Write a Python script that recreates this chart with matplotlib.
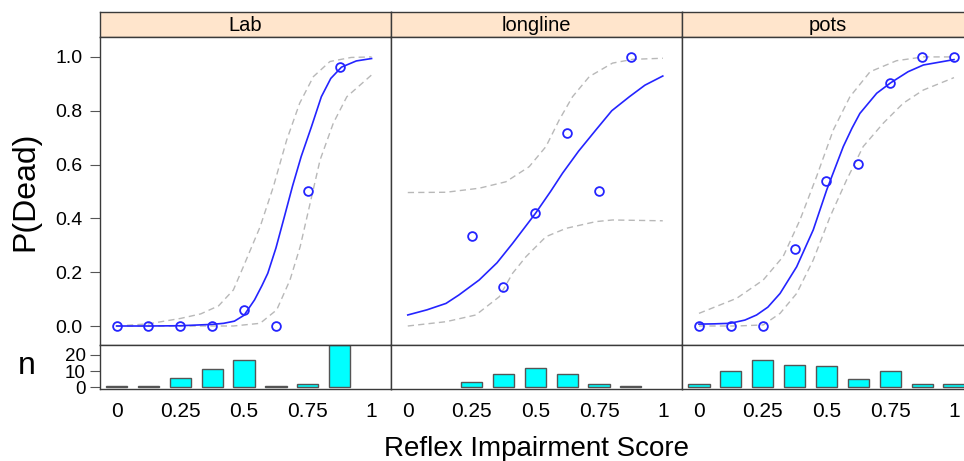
import matplotlib
matplotlib.use("Agg")
import matplotlib.pyplot as plt

plt.rcParams['font.family'] = ['Liberation Sans', 'DejaVu Sans']

panels = ["Lab", "longline", "pots"]

# observed proportions
lab_x = [0, 0.125, 0.25, 0.375, 0.5, 0.625, 0.75, 0.875]
lab_p = [0, 0, 0, 0, 0.059, 0, 0.5, 0.962]
lab_n = [1, 1, 6, 11, 17, 1, 2, 26]

ll_x = [0.25, 0.375, 0.5, 0.625, 0.75, 0.875]
ll_p = [0.336, 0.145, 0.419, 0.717, 0.503, 1.0]
ll_n = [3, 8, 12, 8, 2, 1]

pots_x = [0, 0.125, 0.25, 0.375, 0.5, 0.625, 0.75, 0.875, 1.0]
pots_p = [0, 0, 0, 0.286, 0.54, 0.603, 0.904, 1.0, 1.0]
pots_n = [2, 10, 17, 14, 13, 5, 10, 2, 2]

# fitted curves
lab_fit_x = [0.0, 0.125, 0.25, 0.375, 0.42, 0.462, 0.5, 0.541, 0.57, 0.593, 0.625, 0.658, 0.69, 0.724, 0.764, 0.803, 0.84, 0.882, 0.94, 1.0]
lab_fit_y = [0.0, 0.0, 0.001, 0.006, 0.010, 0.018, 0.040, 0.097, 0.15, 0.196, 0.29, 0.406, 0.52, 0.63, 0.74, 0.852, 0.92, 0.962, 0.985, 0.994]
lab_up_x = [0.0, 0.125, 0.25, 0.33, 0.4, 0.458, 0.497, 0.563, 0.615, 0.667, 0.718, 0.772, 0.837, 0.92, 1.0]
lab_up_y = [0.0, 0.008, 0.028, 0.045, 0.075, 0.134, 0.22, 0.369, 0.518, 0.691, 0.828, 0.927, 0.983, 0.998, 1.0]
lab_lo_x = [0.0, 0.25, 0.458, 0.563, 0.628, 0.68, 0.72, 0.759, 0.798, 0.85, 0.903, 1.0]
lab_lo_y = [0.0, 0.0, 0.0, 0.01, 0.06, 0.171, 0.295, 0.456, 0.617, 0.754, 0.852, 0.933]

ll_fit_x = [0.0, 0.075, 0.15, 0.2, 0.28, 0.35, 0.411, 0.501, 0.56, 0.607, 0.67, 0.738, 0.8, 0.869, 0.93, 1.0]
ll_fit_y = [0.041, 0.06, 0.084, 0.115, 0.171, 0.235, 0.307, 0.419, 0.50, 0.568, 0.65, 0.729, 0.80, 0.852, 0.895, 0.929]
ll_up_x = [0.0, 0.15, 0.28, 0.385, 0.476, 0.542, 0.594, 0.646, 0.712, 0.803, 0.882, 1.0]
ll_up_y = [0.496, 0.497, 0.512, 0.536, 0.592, 0.667, 0.766, 0.852, 0.927, 0.977, 0.991, 0.995]
ll_lo_x = [0.0, 0.15, 0.267, 0.359, 0.411, 0.464, 0.542, 0.621, 0.738, 0.803, 1.0]
ll_lo_y = [0.0, 0.016, 0.041, 0.109, 0.196, 0.258, 0.332, 0.363, 0.388, 0.394, 0.391]

pots_fit_x = [0.0, 0.06, 0.122, 0.18, 0.226, 0.27, 0.318, 0.383, 0.448, 0.501, 0.566, 0.6, 0.631, 0.697, 0.752, 0.82, 0.88, 0.94, 1.0]
pots_fit_y = [0.007, 0.008, 0.01, 0.022, 0.041, 0.07, 0.121, 0.22, 0.357, 0.506, 0.667, 0.735, 0.79, 0.865, 0.904, 0.945, 0.97, 0.98, 0.99]
pots_up_x = [0.0, 0.148, 0.252, 0.33, 0.396, 0.461, 0.527, 0.592, 0.671, 0.775, 0.88, 1.0]
pots_up_y = [0.047, 0.103, 0.171, 0.258, 0.394, 0.555, 0.729, 0.852, 0.945, 0.986, 1.0, 1.0]
pots_lo_x = [0.0, 0.148, 0.252, 0.318, 0.383, 0.448, 0.514, 0.579, 0.644, 0.723, 0.801, 0.88, 1.0]
pots_lo_y = [0.0, 0.0, 0.004, 0.047, 0.121, 0.245, 0.406, 0.543, 0.667, 0.754, 0.828, 0.877, 0.923]

data = [
    (lab_x, lab_p, lab_n, lab_fit_x, lab_fit_y, lab_up_x, lab_up_y, lab_lo_x, lab_lo_y),
    (ll_x, ll_p, ll_n, ll_fit_x, ll_fit_y, ll_up_x, ll_up_y, ll_lo_x, ll_lo_y),
    (pots_x, pots_p, pots_n, pots_fit_x, pots_fit_y, pots_up_x, pots_up_y, pots_lo_x, pots_lo_y),
]

y_ticks = [0.0, 0.2, 0.4, 0.6, 0.8, 1.0]
n_ticks = [0, 10, 20]
x_ticks = [0, 0.25, 0.5, 0.75, 1]
x_labels = ["0", "0.25", "0.5", "0.75", "1"]

FW, FH = 964, 461
fig = plt.figure(figsize=(FW / 100, FH / 100), dpi=100)


def box(left, top, w, h):
    return [left / FW, 1 - (top + h) / FH, w / FW, h / FH]


L0, W = 99.5, 291.2
BLUE = '#2424ff'
GRAY = '#b8b8b8'
EDGE = '#3a3a3a'
XLIM = (-0.067, 1.075)

for i, name in enumerate(panels):
    xs, ps, ns, fx, fy, ux, uy, lx, ly = data[i]
    left = L0 + i * W

    # strip
    s = fig.add_axes(box(left, 12.5, W, 24.5))
    s.set_facecolor('#ffe5cc')
    s.set_xticks([]); s.set_yticks([])
    for sp in s.spines.values():
        sp.set_color(EDGE); sp.set_linewidth(1.0)
    s.text(0.5, 0.45, name, ha='center', va='center', fontsize=14.5, transform=s.transAxes)

    # main panel
    m = fig.add_axes(box(left, 37, W, 308))
    m.set_xlim(*XLIM)
    m.set_ylim(-0.0706, 1.074)
    m.plot(ux, uy, color=GRAY, lw=1.0, ls=(0, (4.5, 3)))
    m.plot(lx, ly, color=GRAY, lw=1.0, ls=(0, (4.5, 3)))
    m.plot(fx, fy, color=BLUE, lw=1.2)
    m.plot(xs, ps, 'o', mfc='none', mec=BLUE, ms=6.3, mew=1.3)
    m.set_xticks([])
    for sp in m.spines.values():
        sp.set_color(EDGE); sp.set_linewidth(1.0)
    if i == 0:
        m.set_yticks(y_ticks)
        m.set_yticklabels([f"{v:.1f}" for v in y_ticks], fontsize=14)
        m.tick_params(axis='y', direction='out', length=7, width=0.8, color='#555555', pad=5)
    else:
        m.set_yticks([])

    # histogram panel
    h = fig.add_axes(box(left, 345, W, 44))
    h.set_xlim(*XLIM)
    h.set_ylim(-1, 26)
    h.bar(xs, ns, width=0.083, color='#00ffff', edgecolor='#555555', linewidth=1.0)
    for sp in h.spines.values():
        sp.set_color(EDGE); sp.set_linewidth(1.0)
    h.set_xticks(x_ticks)
    h.set_xticklabels(x_labels, fontsize=15)
    h.tick_params(axis='x', length=0, pad=9)
    if i == 0:
        h.set_yticks(n_ticks)
        h.set_yticklabels([str(v) for v in n_ticks], fontsize=13.5)
        h.tick_params(axis='y', direction='out', length=7, width=0.8, color='#555555', pad=3)
    else:
        h.set_yticks([])

fig.text(25 / FW, 1 - 191 / FH, "P(Dead)", rotation=90, ha='center', va='center', fontsize=23)
fig.text(27 / FW, 1 - 366 / FH, "n", ha='center', va='center', fontsize=23)
fig.text(537 / FW, 1 - 449 / FH, "Reflex Impairment Score", ha='center', va='center', fontsize=20)

fig.savefig("out.png", dpi=100)
